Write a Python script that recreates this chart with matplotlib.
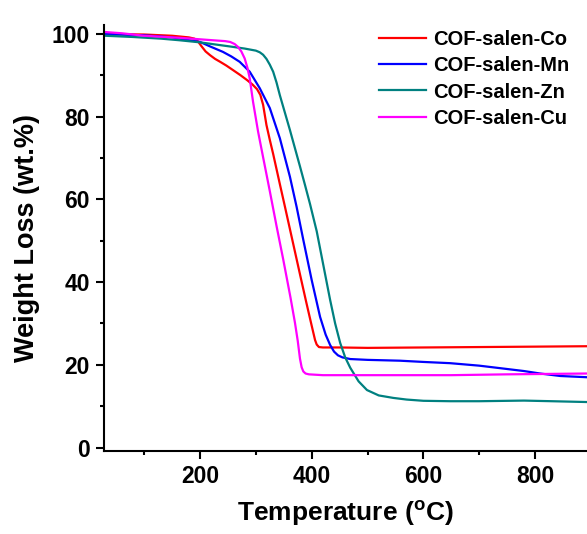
import matplotlib
matplotlib.use("Agg")
import matplotlib.pyplot as plt
from matplotlib.ticker import MultipleLocator

plt.rcParams['font.family'] = ['Liberation Sans', 'DejaVu Sans']
plt.rcParams['font.weight'] = 'bold'
plt.rcParams['mathtext.fontset'] = 'custom'
plt.rcParams['mathtext.rm'] = 'Liberation Sans:bold'
plt.rcParams['mathtext.bf'] = 'Liberation Sans:bold'

# --- data (temperature in degC, weight in wt.%) ---
t_co = [30, 100, 150, 180, 190, 196, 203, 210, 218, 227, 236, 247, 259, 272,
        284, 294, 302, 308, 313, 319, 325, 331, 343, 352, 366, 380, 390, 397,
        402, 406, 409, 413, 420, 450, 500, 600, 700, 800, 893]
w_co = [100.0, 99.9, 99.6, 99.2, 98.9, 98.3, 97.0, 95.8, 94.9, 94.0, 93.3,
        92.4, 91.3, 90.1, 88.9, 87.8, 86.7, 85.3, 82.9, 78.0, 74.4, 71.0, 63.7,
        58.3, 49.8, 41.3, 35.3, 31.2, 28.3, 26.0, 24.9, 24.3, 24.2, 24.2, 24.1,
        24.2, 24.3, 24.4, 24.5]

t_mn = [30, 100, 150, 200, 220, 241, 256, 271, 289, 307, 325, 343, 361, 373,
        385, 400, 415, 425, 433, 440, 447, 455, 469, 500, 558, 600, 648, 700,
        737, 780, 809, 845, 893]
w_mn = [100.0, 99.7, 99.2, 98.1, 96.9, 95.7, 94.6, 93.3, 90.9, 86.9, 82.1,
        74.8, 65.5, 58.2, 50.2, 40.5, 31.6, 27.3, 24.8, 23.2, 22.3, 21.8, 21.4,
        21.2, 21.0, 20.7, 20.4, 19.8, 19.2, 18.5, 17.9, 17.3, 17.0]

t_zn = [30, 80, 130, 164, 200, 254, 280, 300, 307, 313, 319, 325, 331, 337,
        343, 352, 361, 370, 379, 388, 397, 409, 421, 433, 442, 451, 460, 469,
        484, 499, 520, 546, 570, 600, 648, 700, 780, 830, 893]
w_zn = [99.6, 99.3, 98.9, 98.5, 98.0, 97.0, 96.5, 96.0, 95.6, 95.0, 94.0, 92.6,
        90.9, 88.3, 85.2, 81.0, 76.8, 72.4, 68.0, 63.5, 58.9, 52.3, 44.0, 35.7,
        30.0, 25.3, 21.8, 19.3, 16.0, 13.9, 12.6, 12.0, 11.6, 11.3, 11.2, 11.2,
        11.35, 11.2, 11.0]

t_cu = [30, 60, 100, 164, 224, 245, 254, 262, 268, 274, 280, 285, 289, 295,
        304, 313, 325, 337, 349, 362, 370, 375, 379, 382, 385, 389, 395, 420,
        500, 558, 650, 750, 893]
w_cu = [100.5, 100.2, 99.6, 99.1, 98.5, 98.3, 98.1, 97.6, 96.9, 95.8, 94.1,
        91.8, 89.3, 83.6, 76.4, 70.2, 62.0, 53.6, 45.5, 36.3, 30.2, 25.8, 21.5,
        19.4, 18.4, 17.9, 17.7, 17.5, 17.5, 17.5, 17.5, 17.7, 17.9]

labels = ['COF-salen-Co', 'COF-salen-Mn', 'COF-salen-Zn', 'COF-salen-Cu']
colors = ['#ff0000', '#0000ff', '#008080', '#ff00ff']

fig = plt.figure(figsize=(5.87, 5.34), dpi=100)
ax = fig.add_axes([104.3 / 587, 1 - 450.7 / 534, 1 - 104.3 / 587, (450.7 - 25) / 534])

series = [(t_co, w_co), (t_mn, w_mn), (t_zn, w_zn), (t_cu, w_cu)]
for (t, w), lab, c in zip(series, labels, colors):
    ax.plot(t, w, color=c, lw=1.6, label=lab)

ax.set_xlim(28.6, 893)
ax.set_ylim(-0.77, 102.2)
ax.spines['top'].set_visible(False)
ax.spines['right'].set_visible(False)
for s in ('left', 'bottom'):
    ax.spines[s].set_linewidth(1.5)

ax.xaxis.set_major_locator(MultipleLocator(200))
ax.xaxis.set_minor_locator(MultipleLocator(100))
ax.yaxis.set_major_locator(MultipleLocator(20))
ax.yaxis.set_minor_locator(MultipleLocator(10))
ax.tick_params(which='major', direction='out', length=6, width=1.5,
               labelsize=16.5, pad=4.5)
ax.tick_params(which='minor', direction='out', length=3, width=1.5)
ax.set_xticks([200, 400, 600, 800])

ax.set_xlabel(r'Temperature ($^{\mathrm{o}}$C)', fontsize=19, fontweight='bold',
              labelpad=7)
ax.set_ylabel('Weight Loss (wt.%)', fontsize=19.5, fontweight='bold', labelpad=8)

ax.legend(loc='upper left', bbox_to_anchor=(379 / 587, 1 - 30 / 534),
          bbox_transform=fig.transFigure, frameon=False, fontsize=14.5,
          handlelength=2.33, handletextpad=0.35, labelspacing=0.36,
          borderpad=0, borderaxespad=0)

fig.savefig('out.png', dpi=100)
